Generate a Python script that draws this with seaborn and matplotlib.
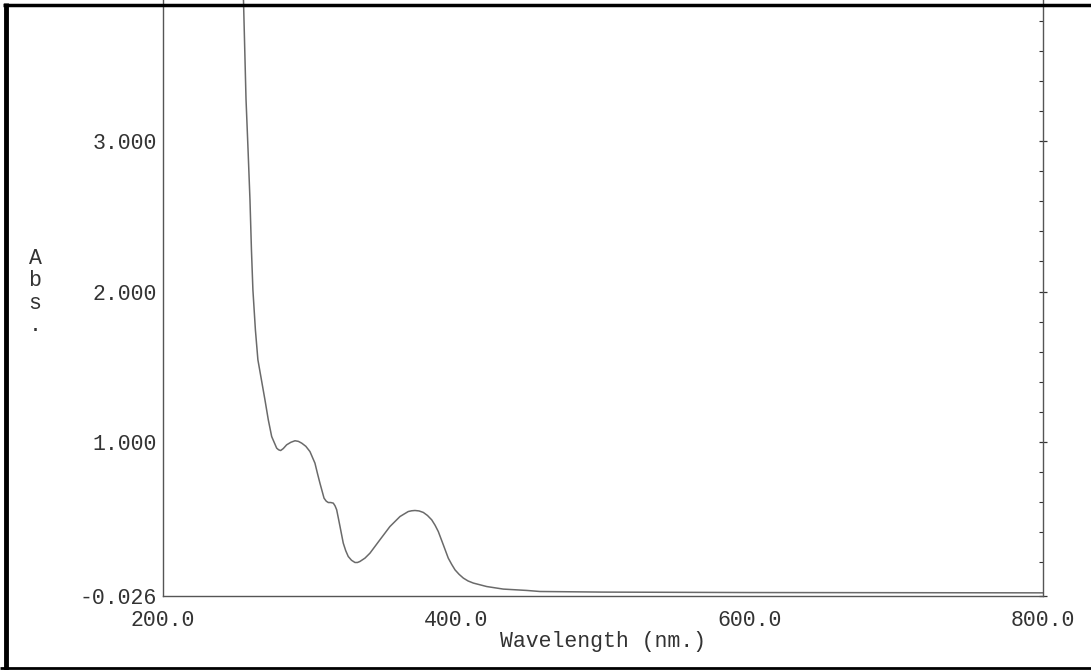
import numpy as np
import pandas as pd
import matplotlib
matplotlib.use("Agg")
import matplotlib.pyplot as plt
import seaborn as sns
from matplotlib.lines import Line2D
from matplotlib.ticker import MultipleLocator, FixedLocator

# UV-Vis spectrum
wavelength = [254.3, 254.9, 256.6, 258.0, 259.3, 260.3, 261.3, 263.0, 264.7, 267.1,
              269.5, 271.8, 274.1, 277.5, 278.8, 280.2, 282.0, 284.3, 287.2, 290.0,
              292.3, 294.6, 297.4, 300.2, 303.6, 305.3, 307.0, 309.8, 311.3, 312.7,
              314.4, 316.1, 317.3, 318.4, 319.5, 320.7, 322.9, 324.6, 326.3, 328.5,
              330.9, 332.6, 334.3, 337.7, 341.1, 347.9, 354.7, 361.6, 367.2, 369.5,
              371.8, 374.6, 377.5, 380.3, 383.2, 385.5, 387.7, 391.1, 394.5, 396.8,
              399.1, 401.9, 404.8, 408.0, 411.6, 420.7, 432.0, 448.0, 457.0, 500.0,
              600.0, 700.0, 800.0]
absorbance = [4.10, 3.93, 3.28, 2.94, 2.61, 2.278, 2.011, 1.745, 1.546, 1.413,
              1.28, 1.146, 1.035, 0.958, 0.947, 0.942, 0.955, 0.980, 0.997, 1.007,
              1.003, 0.991, 0.970, 0.935, 0.858, 0.790, 0.725, 0.625, 0.605, 0.596,
              0.596, 0.592, 0.574, 0.548, 0.495, 0.436, 0.326, 0.275, 0.237, 0.212,
              0.197, 0.197, 0.204, 0.226, 0.259, 0.348, 0.436, 0.503, 0.536, 0.541,
              0.543, 0.540, 0.530, 0.510, 0.481, 0.445, 0.403, 0.315, 0.226, 0.185,
              0.148, 0.118, 0.093, 0.074, 0.060, 0.037, 0.020, 0.011, 0.004, 0.0,
              -0.003, -0.004, -0.005]

x_ticks = [200, 400, 600, 800]
x_tick_labels = ["200.0", "400.0", "600.0", "800.0"]
y_ticks = [-0.026, 1.0, 2.0, 3.0]
y_tick_labels = ["-0.026", "1.000", "2.000", "3.000"]

df = pd.DataFrame({"wl": wavelength, "abs": absorbance})

sns.set_style("white")
plt.rcParams["font.family"] = ["Liberation Mono", "DejaVu Sans Mono"]

ink = "#333333"
fs = 15.5

fig = plt.figure(figsize=(10.91, 6.70), dpi=100)
ax = fig.add_axes([163 / 1091, 1 - 596 / 670, 880 / 1091, 596 / 670])

sns.lineplot(data=df, x="wl", y="abs", ax=ax, estimator=None, sort=False,
             color="#6a6a6a", linewidth=1.1)

ax.set_xlim(200, 800)
ax.set_ylim(-0.026, 3.94)

ax.xaxis.set_major_locator(FixedLocator(x_ticks))
ax.set_xticklabels(x_tick_labels)
ax.xaxis.set_minor_locator(MultipleLocator(20))
ax.yaxis.set_major_locator(FixedLocator(y_ticks))
ax.set_yticklabels(y_tick_labels)
ax.yaxis.set_minor_locator(FixedLocator(np.arange(0.2, 3.95, 0.2)))

ax.tick_params(axis="x", which="major", direction="in", length=5, width=0.9,
               color=ink, labelsize=fs, labelcolor=ink, pad=10)
ax.tick_params(axis="x", which="minor", direction="inout", length=4, width=0.8, color=ink)
ax.tick_params(axis="y", which="major", direction="inout", length=6, width=0.9,
               color=ink, labelsize=fs, labelcolor=ink, pad=1.5, right=True)
ax.tick_params(axis="y", which="minor", direction="in", length=3, width=0.8,
               color=ink, right=True)

for side in ["left", "right", "bottom"]:
    ax.spines[side].set_color("#555555")
    ax.spines[side].set_linewidth(1.0)
ax.spines["top"].set_visible(False)

ax.set_xlabel("")
ax.set_ylabel("")

fig.text(603 / 1091, 1 - 642 / 670, "Wavelength (nm.)", ha="center", va="center",
         fontsize=fs, color=ink)
fig.text(35 / 1091, 1 - 292 / 670, "A\nb\ns\n.", ha="center", va="center",
         fontsize=fs, color=ink, linespacing=1.1)

# scan border
fig.add_artist(Line2D([3 / 1091, 1.0], [1 - 4.5 / 670, 1 - 4.5 / 670],
                      transform=fig.transFigure, color="black", linewidth=2.5,
                      solid_capstyle="butt"))
fig.add_artist(Line2D([5.5 / 1091, 5.5 / 1091], [0, 1 - 3 / 670],
                      transform=fig.transFigure, color="black", linewidth=3.5,
                      solid_capstyle="butt"))
fig.add_artist(Line2D([0, 1.0], [1 - 668 / 670, 1 - 668 / 670],
                      transform=fig.transFigure, color="black", linewidth=2.0,
                      solid_capstyle="butt"))

fig.savefig("out.png", dpi=100)
